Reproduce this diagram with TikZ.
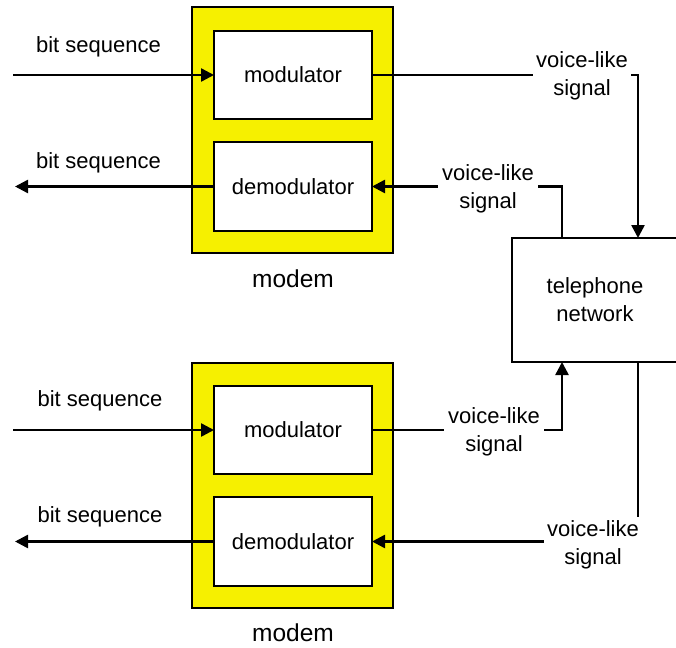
\documentclass[tikz,border=0pt]{standalone}
\usepackage{fontspec}
\setmainfont{Liberation Sans}
\usetikzlibrary{arrows.meta}
\definecolor{modemyellow}{RGB}{246,240,0}
\tikzset{
  box/.style={draw, line width=2.5pt, fill=white, inner sep=0pt, outer sep=0pt},
  modembox/.style={draw, line width=2.5pt, fill=modemyellow, inner sep=0pt, outer sep=0pt, minimum width=201pt, minimum height=246pt},
  unit/.style={box, minimum width=158pt, minimum height=88pt, font=\fontsize{22}{28}\selectfont},
  txt/.style={font=\fontsize{22}{28}\selectfont, align=center, inner sep=0pt, anchor=base},
  sig/.style={txt, fill=white, inner sep=3pt},
  bigtxt/.style={font=\fontsize{24.5}{30}\selectfont, inner sep=0pt, anchor=base},
  conn/.style={line width=2.5pt},
  arr/.style={conn, -{Triangle[length=13pt,width=13pt]}}
}
\begin{document}
\begin{tikzpicture}[x=1pt,y=-1pt]
\useasboundingbox (0,0) rectangle (676,647);
\clip (0,0) rectangle (676,647);
% top modem
\node[modembox] (modemA) at (292.5,130) {};
\node[unit] (mod1) at (293,75) {modulator};
\node[unit, minimum height=89pt] (demod1) at (293,186.5) {demodulator};
\node[bigtxt] (modemAl) at (293,287) {modem};
% bottom modem
\node[modembox, minimum height=245pt] (modemB) at (292.5,485.5) {};
\node[unit] (mod2) at (293,430) {modulator};
\node[unit, minimum height=89pt] (demod2) at (293,541.5) {demodulator};
\node[bigtxt] (modemBl) at (293,641) {modem};
% telephone network
\node[box, minimum width=178pt, minimum height=124pt] (tel) at (601,300) {};
\node[txt] (telt) at (595,321) {telephone\\network};
% free ends and corners
\coordinate (in1) at (13,75);
\coordinate (out1) at (15,186.5);
\coordinate (in2) at (13,430);
\coordinate (out2) at (15,541.5);
\coordinate (c1) at (638,75);
\coordinate (c2) at (562,186.5);
\coordinate (c3) at (562,430);
\coordinate (c4) at (638,541.5);
% connectors
\draw[arr] (in1) -- (mod1.west);
\draw[arr] (demod1.west) -- (out1);
\draw[arr] (in2) -- (mod2.west);
\draw[arr] (demod2.west) -- (out2);
\draw[arr] (mod1.east) -- (c1) -- (c1 |- tel.north);
\draw[arr] (tel.north -| c2) -- (c2) -- (demod1.east);
\draw[arr] (mod2.east) -- (c3) -- (c3 |- tel.south);
\draw[arr] (tel.south -| c4) -- (c4) -- (demod2.east);
% labels
\node[txt] (bs1) at (98.5,53) {bit sequence};
\node[txt] (bs2) at (98.5,168) {bit sequence};
\node[txt] (bs3) at (100,406) {bit sequence};
\node[txt] (bs4) at (100,522) {bit sequence};
\node[sig] (v1) at (582,96) {voice-like\\signal};
\node[sig, inner xsep=4pt] (v2) at (488,208) {voice-like\\signal};
\node[sig, inner xsep=4pt] (v3) at (494,451) {voice-like\\signal};
\node[sig] (v4) at (593,564) {voice-like\\signal};
\end{tikzpicture}
\end{document}
